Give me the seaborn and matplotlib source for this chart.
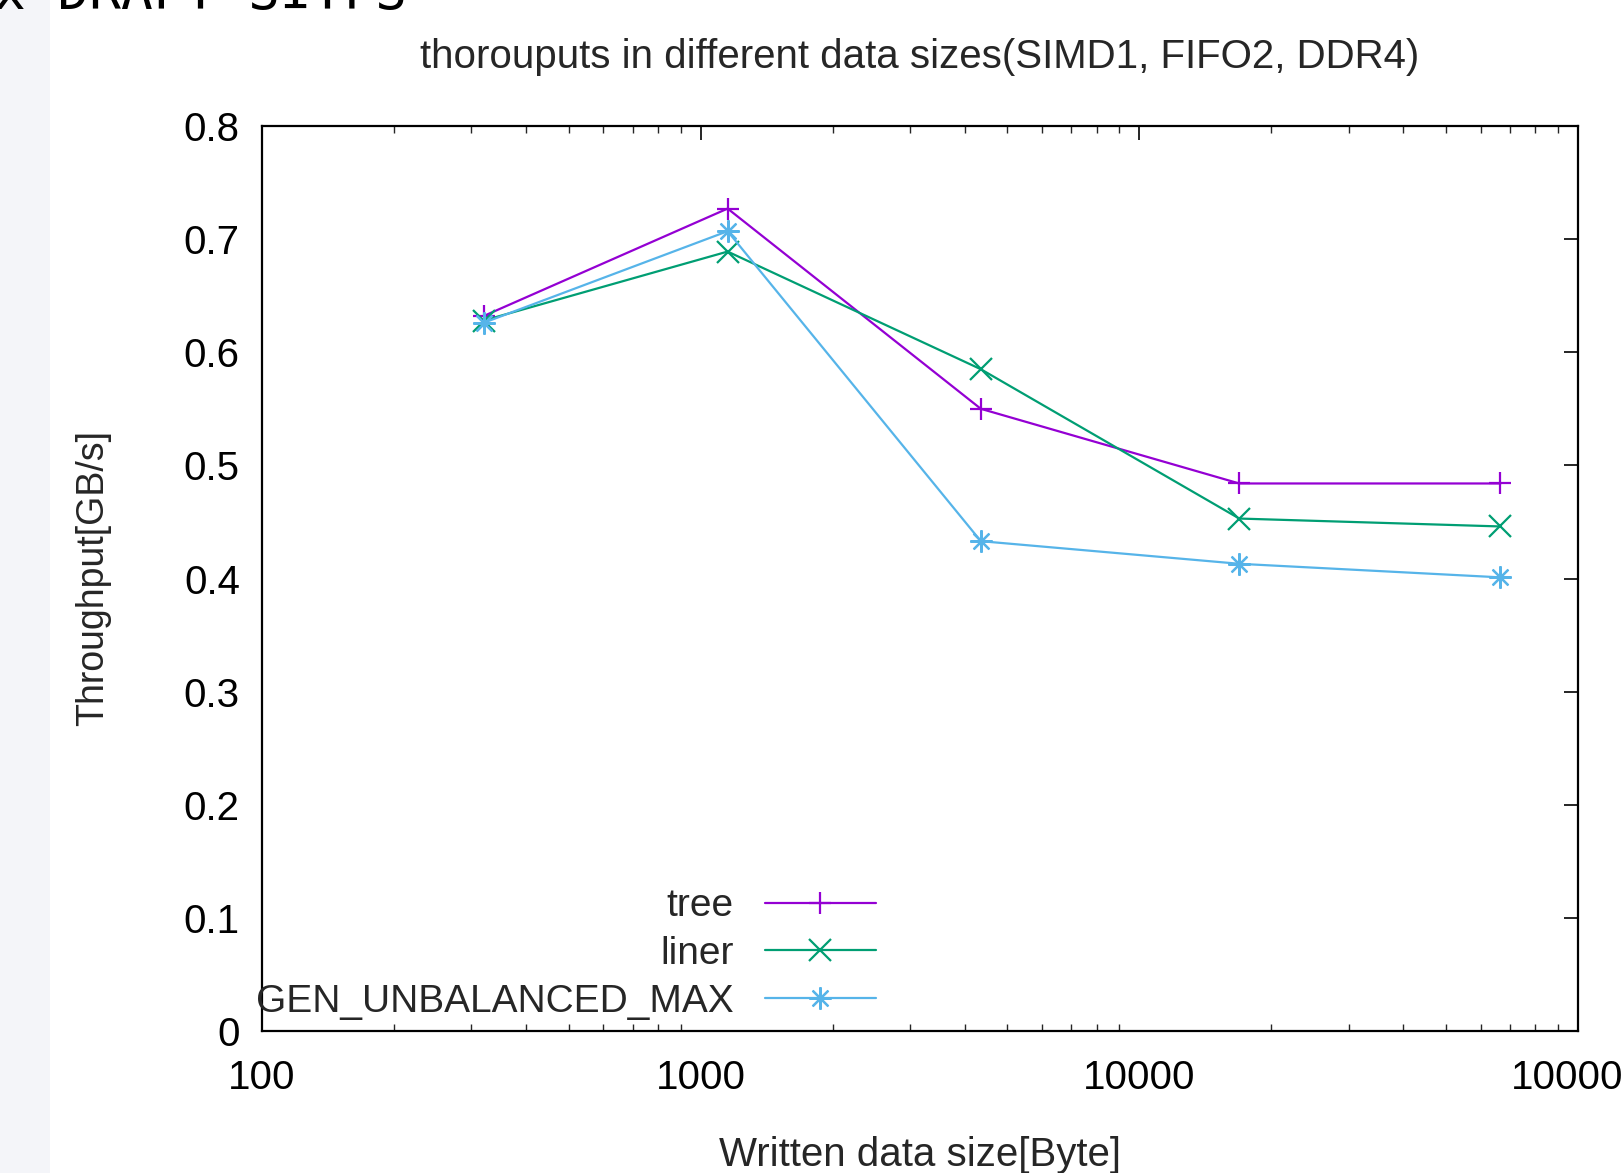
import numpy as np
import pandas as pd
import matplotlib
matplotlib.use("Agg")
import matplotlib.pyplot as plt
import seaborn as sns
from matplotlib.patches import Rectangle
from matplotlib.ticker import LogLocator, FixedLocator, NullFormatter

# data
data_size = [320, 1152, 4352, 16896, 66560]
tree = [0.632, 0.727, 0.550, 0.484, 0.484]
liner = [0.628, 0.689, 0.585, 0.453, 0.446]
gen_unbalanced_max = [0.626, 0.707, 0.433, 0.413, 0.401]

series_names = ["tree", "liner", "GEN_UNBALANCED_MAX"]
series_values = [tree, liner, gen_unbalanced_max]
colors = ["#9400d3", "#009e73", "#56b4e9"]
markers = ["+", "x", (8, 2, 0)]

sns.set_theme(style="white")
plt.rcParams["font.family"] = ["Liberation Sans", "DejaVu Sans"]

fig = plt.figure(figsize=(16.21, 11.73), dpi=100)
fig.patch.set_facecolor("white")

# pale strip on the left of the screenshot
fig.patches.append(Rectangle((0, 0), 50 / 1621, 1, transform=fig.transFigure,
                             facecolor="#f4f5f9", edgecolor="none", zorder=0))
# cut-off text at the top of the screenshot
fig.text(-0.004, 1.0 - 9 / 1173, "x DRAFT SITFS", family="DejaVu Sans Mono",
         fontsize=38, va="baseline", ha="left", color="black")

ax = fig.add_axes([262 / 1621, 1 - 1031 / 1173, (1578 - 262) / 1621, (1031 - 126) / 1173])

for name, vals, c, m in zip(series_names, series_values, colors, markers):
    df = pd.DataFrame({"size": data_size, "throughput": vals})
    sns.lineplot(data=df, x="size", y="throughput", ax=ax, color=c, marker=m,
                 markersize=16, markeredgewidth=1.6, linewidth=1.6, label=name,
                 markeredgecolor=c)

ax.set_xscale("log")
ax.set_xlim(100, 100000)
ax.set_ylim(0, 0.8)
ax.yaxis.set_major_locator(FixedLocator(np.arange(0, 0.81, 0.1)))
ax.set_yticklabels(["0" if v == 0 else f"{v:.1f}" for v in np.arange(0, 0.81, 0.1)])
ax.xaxis.set_major_locator(FixedLocator([100, 1000, 10000, 100000]))
ax.set_xticklabels(["100", "1000", "10000", "100000"])
ax.xaxis.set_minor_locator(LogLocator(base=10, subs=np.arange(2, 10)))
ax.xaxis.set_minor_formatter(NullFormatter())

ax.tick_params(axis="both", which="major", direction="in", length=10, width=1.2,
               top=True, right=True, labelsize=29, colors="black")
ax.tick_params(axis="x", which="minor", direction="in", length=5, width=1.0,
               top=True, bottom=True)
ax.tick_params(axis="x", which="major", pad=20)
ax.tick_params(axis="y", which="major", pad=16)
for s in ax.spines.values():
    s.set_color("black")
    s.set_linewidth(1.6)

ax.set_xlabel("Written data size[Byte]", fontsize=29, labelpad=28)
ax.set_ylabel("Throughput[GB/s]", fontsize=27, labelpad=52)
ax.set_title("thorouputs in different data sizes(SIMD1, FIFO2, DDR4)", fontsize=29, pad=42)

ax.legend(loc="lower right", bbox_to_anchor=(0.493, -0.026), frameon=False,
          markerfirst=False, fontsize=28, handlelength=2.85, handletextpad=0.8,
          labelspacing=0.3)

fig.savefig("out.png", dpi=100)
